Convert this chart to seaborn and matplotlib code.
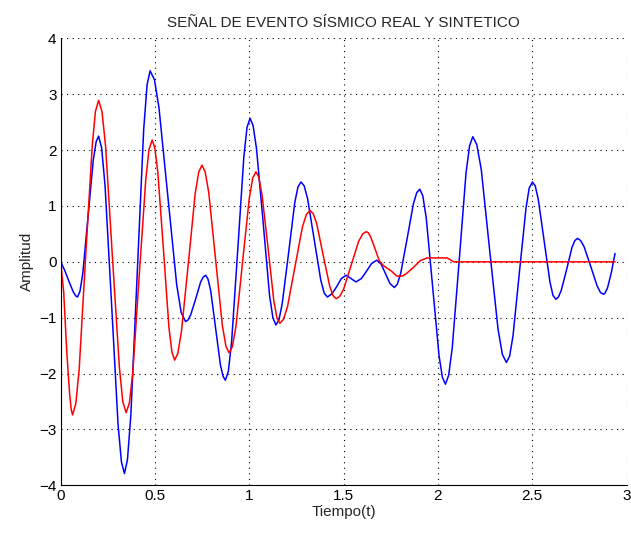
import numpy as np
import pandas as pd
import matplotlib
matplotlib.use('Agg')
import matplotlib.pyplot as plt
import seaborn as sns

# senal real (azul)
t_real = [0.000, 0.022, 0.045, 0.067, 0.080, 0.089, 0.102, 0.117, 0.145, 0.173, 0.188, 0.201,
          0.217, 0.235, 0.270, 0.304, 0.322, 0.338, 0.354, 0.372, 0.406, 0.440, 0.458, 0.474,
          0.497, 0.521, 0.568, 0.615, 0.639, 0.662, 0.675, 0.689, 0.716, 0.742, 0.756, 0.769,
          0.781, 0.795, 0.821, 0.847, 0.861, 0.873, 0.889, 0.906, 0.939, 0.971, 0.988, 1.004,
          1.020, 1.038, 1.073, 1.107, 1.125, 1.141, 1.157, 1.174, 1.208, 1.241, 1.258, 1.274,
          1.291, 1.309, 1.344, 1.379, 1.397, 1.414, 1.439, 1.464, 1.488, 1.513, 1.540, 1.566,
          1.594, 1.621, 1.648, 1.676, 1.699, 1.723, 1.746, 1.769, 1.785, 1.803, 1.837, 1.870,
          1.888, 1.904, 1.920, 1.938, 1.972, 2.006, 2.024, 2.040, 2.057, 2.076, 2.113, 2.149,
          2.168, 2.185, 2.206, 2.230, 2.274, 2.319, 2.342, 2.363, 2.380, 2.398, 2.432, 2.467,
          2.484, 2.501, 2.516, 2.532, 2.563, 2.594, 2.610, 2.625, 2.639, 2.654, 2.683, 2.711,
          2.726, 2.740, 2.757, 2.775, 2.810, 2.844, 2.862, 2.879, 2.886, 2.899, 2.919, 2.939]
a_real = [0.00, -0.16, -0.36, -0.54, -0.61, -0.63, -0.53, -0.21, 0.81, 1.83, 2.15, 2.25,
          2.04, 1.37, -0.77, -2.91, -3.58, -3.79, -3.54, -2.74, -0.19, 2.37, 3.17, 3.42,
          3.26, 2.76, 1.18, -0.41, -0.91, -1.07, -1.04, -0.95, -0.66, -0.36, -0.27, -0.24,
          -0.31, -0.51, -1.18, -1.85, -2.05, -2.12, -1.96, -1.44, 0.23, 1.88, 2.41, 2.57,
          2.44, 2.03, 0.72, -0.59, -1.00, -1.13, -1.04, -0.76, 0.15, 1.06, 1.34, 1.43,
          1.36, 1.13, 0.40, -0.33, -0.56, -0.63, -0.57, -0.44, -0.30, -0.24, -0.30, -0.36,
          -0.30, -0.17, -0.03, 0.03, -0.04, -0.22, -0.39, -0.46, -0.40, -0.20, 0.42, 1.04,
          1.24, 1.30, 1.18, 0.79, -0.45, -1.68, -2.07, -2.19, -2.03, -1.54, 0.03, 1.59,
          2.08, 2.24, 2.10, 1.65, 0.22, -1.21, -1.66, -1.80, -1.69, -1.33, -0.19, 0.96,
          1.32, 1.43, 1.36, 1.12, 0.38, -0.36, -0.60, -0.67, -0.63, -0.51, -0.13, 0.26,
          0.38, 0.42, 0.38, 0.27, -0.08, -0.43, -0.55, -0.58, -0.56, -0.47, -0.20, 0.15]

# senal sintetica (roja)
t_sint = [0.000, 0.016, 0.032, 0.047, 0.056, 0.063, 0.080, 0.098, 0.132, 0.167, 0.184, 0.201,
          0.219, 0.238, 0.274, 0.311, 0.329, 0.347, 0.364, 0.382, 0.416, 0.451, 0.468, 0.485,
          0.499, 0.515, 0.545, 0.574, 0.590, 0.604, 0.621, 0.640, 0.677, 0.713, 0.732, 0.749,
          0.766, 0.785, 0.821, 0.857, 0.876, 0.893, 0.910, 0.929, 0.964, 1.000, 1.018, 1.035,
          1.050, 1.067, 1.099, 1.130, 1.147, 1.162, 1.181, 1.202, 1.242, 1.282, 1.303, 1.322,
          1.339, 1.357, 1.391, 1.426, 1.443, 1.460, 1.479, 1.500, 1.540, 1.580, 1.601, 1.620,
          1.631, 1.643, 1.666, 1.689, 1.712, 1.755, 1.780, 1.797, 1.815, 1.833, 1.870, 1.906,
          1.942, 1.990, 2.049, 2.084, 2.500, 2.940]
a_sint = [0.00, -0.55, -1.60, -2.35, -2.65, -2.74, -2.54, -1.92, 0.08, 2.07, 2.69, 2.89,
          2.69, 2.07, 0.10, -1.88, -2.50, -2.70, -2.53, -1.99, -0.26, 1.47, 2.01, 2.18,
          2.04, 1.60, 0.21, -1.18, -1.62, -1.76, -1.64, -1.25, -0.02, 1.22, 1.61, 1.73,
          1.61, 1.24, 0.05, -1.14, -1.51, -1.63, -1.52, -1.16, -0.01, 1.14, 1.50, 1.61,
          1.52, 1.21, 0.26, -0.70, -1.01, -1.10, -1.03, -0.81, -0.09, 0.63, 0.85, 0.92,
          0.86, 0.69, 0.13, -0.43, -0.60, -0.66, -0.62, -0.49, -0.06, 0.37, 0.50, 0.54,
          0.52, 0.45, 0.24, 0.02, -0.07, -0.17, -0.25, -0.26, -0.25, -0.21, -0.10, 0.02,
          0.07, 0.07, 0.07, 0.00, 0.00, 0.00]

x_ticks = [0, 0.5, 1, 1.5, 2, 2.5, 3]
x_labels = ['0', '0.5', '1', '1.5', '2', '2.5', '3']
y_ticks = [-4, -3, -2, -1, 0, 1, 2, 3, 4]

sns.set_style('white')
plt.rcParams['font.family'] = ['Liberation Sans', 'DejaVu Sans']

fig = plt.figure(figsize=(6.31, 5.33), dpi=100)
ax = fig.add_axes([0.0962, 0.0895, 0.8967, 0.8385])

sns.lineplot(x=t_real, y=a_real, color='#0000ff', linewidth=1.1, sort=False, ax=ax)
sns.lineplot(x=t_sint, y=a_sint, color='#ff0000', linewidth=1.1, sort=False, ax=ax)

ax.set_xlim(0, 3)
ax.set_ylim(-4, 4)
ax.set_xticks(x_ticks)
ax.set_xticklabels(x_labels)
ax.set_yticks(y_ticks)
ax.tick_params(direction='in', length=4, width=0.8, labelsize=11, colors='black', pad=3)
ax.grid(True, color='black', linestyle=(0, (1, 4)), linewidth=0.8)

for s in ['top', 'right']:
    ax.spines[s].set_visible(False)
for s in ['left', 'bottom']:
    ax.spines[s].set_color('black')
    ax.spines[s].set_linewidth(0.8)

ax.set_title('SEÑAL DE EVENTO SÍSMICO REAL Y SINTETICO', fontsize=11, pad=8)
ax.set_xlabel('Tiempo(t)', fontsize=11, labelpad=1)
ax.set_ylabel('Amplitud', fontsize=11, labelpad=4)

plt.savefig('out.png', dpi=100)
plt.close()
